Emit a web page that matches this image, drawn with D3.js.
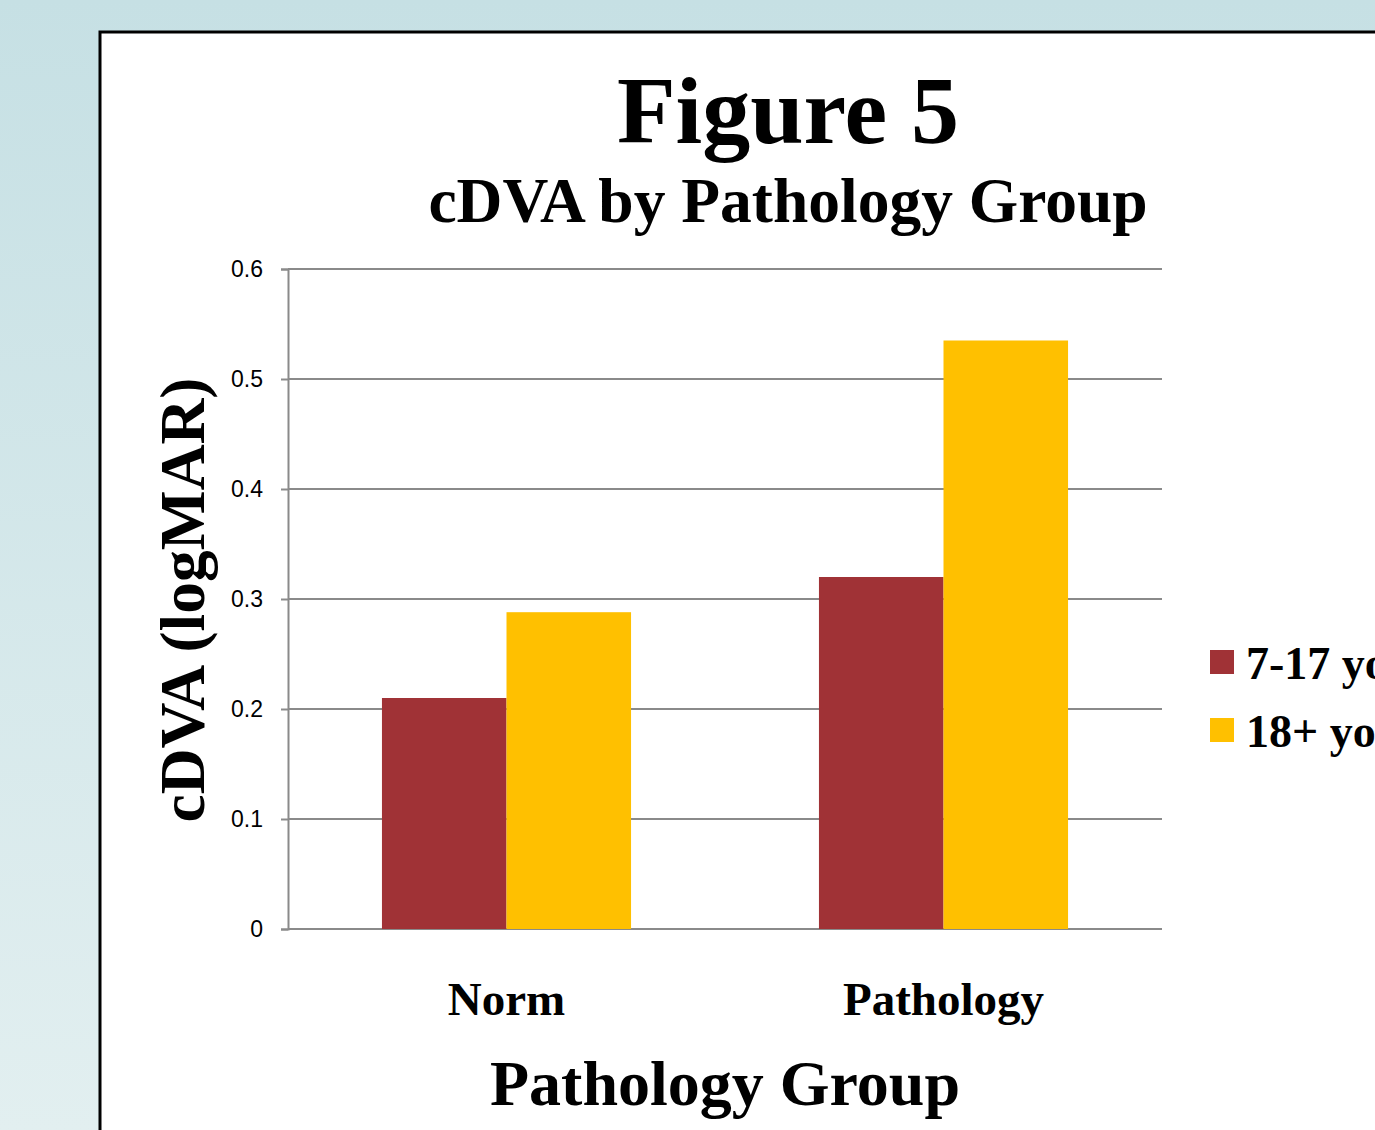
<!DOCTYPE html>
<html>
<head>
<meta charset="utf-8">
<script src="https://cdn.jsdelivr.net/npm/d3@7"></script>
<style>
  html, body { margin: 0; padding: 0; overflow: hidden; }
  svg { display: block; }
  .serif { font-family: "Liberation Serif", "Times New Roman", serif; font-weight: bold; fill: #000; }
  .axis--y text { font-family: "Liberation Sans", Arial, sans-serif; font-size: 23px; fill: #000; }
</style>
</head>
<body>
<svg id="chart"></svg>
<script>
/* global d3, document */

const categories = ['Norm', 'Pathology'];
const seriesNames = ['7-17 yo', '18+ yo'];
const youthValues = [0.21, 0.32];
const adultValues = [0.288, 0.535];
const yTicks = [0, 0.1, 0.2, 0.3, 0.4, 0.5, 0.6];
const colors = ['#a03236', '#ffc000'];

document.addEventListener('DOMContentLoaded', () => {

  const W = 1375, H = 1130;
  const plot = { left: 288, right: 1162, top: 269, bottom: 929 };

  const svg = d3.select('#chart')
    .attr('width', W)
    .attr('height', H);

  // slide background
  const grad = svg.append('defs').append('linearGradient')
    .attr('id', 'bg').attr('x1', 0).attr('y1', 0).attr('x2', 0).attr('y2', 1);
  grad.append('stop').attr('offset', '0%').attr('stop-color', '#c6e0e4');
  grad.append('stop').attr('offset', '100%').attr('stop-color', '#e2eff0');

  svg.append('rect')
    .attr('width', W).attr('height', H)
    .attr('fill', 'url(#bg)');

  // white panel, runs off the right and bottom edge
  svg.append('rect')
    .attr('x', 100).attr('y', 32)
    .attr('width', W).attr('height', H)
    .attr('fill', '#fff')
    .attr('stroke', '#000')
    .attr('stroke-width', 3);

  const x = d3.scaleBand()
    .domain(categories)
    .range([plot.left, plot.right])
    .paddingInner(0.43)
    .paddingOuter(0.215);

  const xs = d3.scaleBand()
    .domain(seriesNames)
    .range([0, x.bandwidth()]);

  const y = d3.scaleLinear()
    .domain([0, 0.6])
    .range([plot.bottom, plot.top]);

  // grid lines
  svg.append('g')
    .attr('class', 'grid-lines')
    .selectAll('line')
    .data(yTicks)
    .enter()
      .append('line')
        .attr('x1', plot.left)
        .attr('x2', plot.right)
        .attr('y1', d => y(d))
        .attr('y2', d => y(d))
        .attr('stroke', '#8a8a8a')
        .attr('stroke-width', 2);

  // y axis
  const yAxis = svg.append('g')
    .attr('class', 'axis axis--y')
    .attr('transform', `translate(${plot.left},0)`)
    .call(d3.axisLeft(y).tickValues(yTicks).tickFormat(d => d === 0 ? '0' : d3.format('.1f')(d)).tickSize(7).tickPadding(18));
  yAxis.select('.domain').attr('stroke', '#8a8a8a').attr('stroke-width', 2);
  yAxis.selectAll('.tick line').attr('stroke', '#8a8a8a').attr('stroke-width', 2);

  // bars
  const rows = categories.map((c, i) => ({ cat: c, vals: [youthValues[i], adultValues[i]] }));

  svg.append('g')
    .selectAll('g')
    .data(rows)
    .enter()
      .append('g')
        .attr('transform', d => `translate(${x(d.cat)},0)`)
        .selectAll('rect')
        .data(d => d.vals.map((v, j) => ({ name: seriesNames[j], v, j })))
        .enter()
          .append('rect')
            .attr('x', d => xs(d.name))
            .attr('width', xs.bandwidth())
            .attr('y', d => y(d.v))
            .attr('height', d => y(0) - y(d.v))
            .attr('fill', d => colors[d.j]);

  // category labels
  svg.append('g')
    .selectAll('text')
    .data(categories)
    .enter()
      .append('text')
        .attr('class', 'serif')
        .attr('x', d => x(d) + x.bandwidth() / 2)
        .attr('y', 1015)
        .attr('text-anchor', 'middle')
        .style('font-size', '47px')
        .text(d => d);

  // titles
  svg.append('text')
    .attr('class', 'serif')
    .attr('x', 788).attr('y', 143)
    .attr('text-anchor', 'middle')
    .style('font-size', '96px')
    .text('Figure 5');

  svg.append('text')
    .attr('class', 'serif')
    .attr('x', 788).attr('y', 222)
    .attr('text-anchor', 'middle')
    .style('font-size', '63.5px')
    .text('cDVA by Pathology Group');

  svg.append('text')
    .attr('class', 'serif')
    .attr('x', 725).attr('y', 1105)
    .attr('text-anchor', 'middle')
    .style('font-size', '64px')
    .text('Pathology Group');

  svg.append('text')
    .attr('class', 'serif')
    .attr('transform', 'translate(204,600) rotate(-90)')
    .attr('text-anchor', 'middle')
    .style('font-size', '63.5px')
    .text('cDVA (logMAR)');

  // legend
  const legend = svg.append('g')
    .selectAll('g')
    .data(seriesNames)
    .enter()
      .append('g')
        .attr('transform', (d, i) => `translate(1210,${650 + i * 68})`);

  legend.append('rect')
    .attr('width', 24).attr('height', 24)
    .attr('fill', (d, i) => colors[i]);

  legend.append('text')
    .attr('class', 'serif')
    .attr('x', 36).attr('y', 29)
    .style('font-size', '46px')
    .text(d => d);

});
</script>
</body>
</html>
